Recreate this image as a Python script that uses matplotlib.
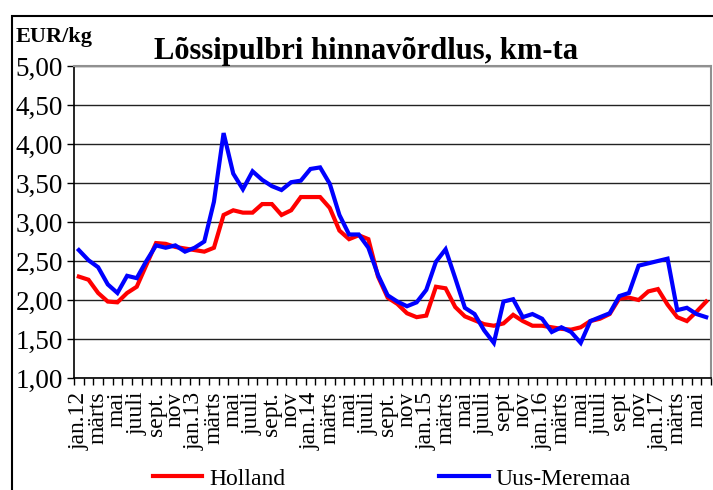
import matplotlib
matplotlib.use('Agg')
import matplotlib.pyplot as plt
from matplotlib.patches import Rectangle
from matplotlib.ticker import FixedLocator, FuncFormatter
import numpy as np

plt.rcParams['font.family'] = ['Liberation Serif', 'DejaVu Serif']

# monthly prices, jan.12 .. jun.17 (EUR/kg)
holland = [2.30, 2.26, 2.09, 1.98, 1.97, 2.09, 2.17, 2.45, 2.73, 2.72, 2.68, 2.66,
           2.64, 2.62, 2.67, 3.09, 3.15, 3.12, 3.12, 3.23, 3.23, 3.09, 3.15, 3.32,
           3.32, 3.32, 3.18, 2.89, 2.78, 2.83, 2.78, 2.30, 2.03, 1.95, 1.83, 1.78,
           1.80, 2.17, 2.15, 1.91, 1.79, 1.74, 1.69, 1.67, 1.70, 1.81, 1.73, 1.67,
           1.67, 1.65, 1.63, 1.62, 1.65, 1.73, 1.76, 1.82, 2.02, 2.03, 2.00, 2.11,
           2.14, 1.94, 1.78, 1.73, 1.85, 1.98]
uus_meremaa = [2.64, 2.51, 2.42, 2.20, 2.09, 2.31, 2.28, 2.50, 2.70, 2.67, 2.70, 2.62,
               2.67, 2.75, 3.26, 4.14, 3.62, 3.42, 3.65, 3.54, 3.46, 3.41, 3.51, 3.53,
               3.68, 3.70, 3.49, 3.09, 2.84, 2.84, 2.67, 2.32, 2.06, 1.98, 1.92, 1.97,
               2.13, 2.49, 2.65, 2.28, 1.90, 1.82, 1.61, 1.45, 1.98, 2.01, 1.78, 1.82,
               1.76, 1.59, 1.65, 1.59, 1.45, 1.73, 1.78, 1.83, 2.05, 2.09, 2.44, 2.47,
               2.50, 2.53, 1.87, 1.90, 1.82, 1.78]
month_labels = ['jan.12', 'märts', 'mai', 'juuli', 'sept.', 'nov',
                'jan.13', 'märts', 'mai', 'juuli', 'sept.', 'nov',
                'jan.14', 'märts', 'mai', 'juuli', 'sept.', 'nov',
                'jan.15', 'märts', 'mai', 'juuli', 'sept', 'nov',
                'jan.16', 'märts', 'mai', 'juuli', 'sept', 'nov',
                'jan.17', 'märts', 'mai']
y_ticks = [1.0, 1.5, 2.0, 2.5, 3.0, 3.5, 4.0, 4.5, 5.0]

W, H = 713, 490
fig = plt.figure(figsize=(W / 100, H / 100), dpi=100)
ax = fig.add_axes([74 / W, 1 - 378 / H, (711 - 74) / W, (378 - 66) / H])

x = np.arange(len(holland))
ax.plot(x, holland, color='#ff0000', lw=3, label='Holland', solid_joinstyle='miter')
ax.plot(x, uus_meremaa, color='#0000ff', lw=3, label='Uus-Meremaa', solid_joinstyle='miter')

ax.set_xlim(-0.5, len(holland) - 0.5)
ax.set_ylim(1, 5)

ax.yaxis.set_major_locator(FixedLocator(y_ticks))
ax.yaxis.set_major_formatter(FuncFormatter(lambda v, p: f'{v:.2f}'.replace('.', ',')))
ax.tick_params(axis='y', direction='out', length=5, width=1, pad=3, labelsize=19.5)
ax.grid(axis='y', color='#222222', lw=1)

ax.set_xticks(x[::2])
ax.set_xticklabels(month_labels, rotation=90, fontsize=17)
ax.set_xticks(np.arange(-0.5, len(holland)), minor=True)
ax.tick_params(axis='x', which='major', length=0, pad=10)
ax.tick_params(axis='x', which='minor', direction='out', length=5, width=1)

for s in ['left', 'bottom']:
    ax.spines[s].set_color('black')
    ax.spines[s].set_linewidth(1.2)
for s in ['top', 'right']:
    ax.spines[s].set_color('#909090')
    ax.spines[s].set_linewidth(1.5)

fig.text(366 / W, 1 - 59 / H, 'Lõssipulbri hinnavõrdlus, km-ta', ha='center',
         va='baseline', fontsize=22, fontweight='bold')
fig.text(16 / W, 1 - 42 / H, 'EUR/kg', ha='left', va='baseline', fontsize=16,
         fontweight='bold')

fig.legend(loc='center', bbox_to_anchor=(392 / W, 1 - 479 / H), ncol=2, frameon=False,
           fontsize=17, handlelength=2.1, handletextpad=0.3, columnspacing=6.5)

# outer chart border
fig.add_artist(Rectangle((12 / W, -0.1), 1.0, 1.1 - 16 / H, transform=fig.transFigure,
                         fill=False, edgecolor='black', lw=1.5))

fig.savefig('out.png', dpi=100)
